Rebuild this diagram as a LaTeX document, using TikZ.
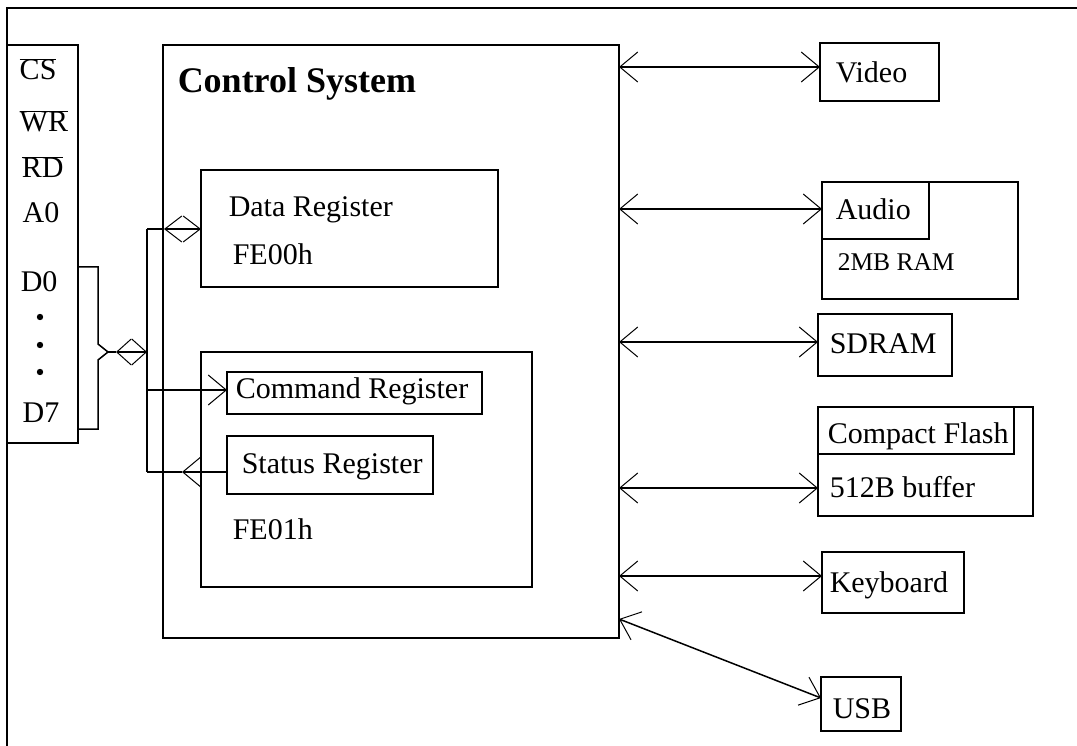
\documentclass[tikz,border=0pt]{standalone}
\usepackage{fontspec}
\setmainfont{Liberation Serif}
\usetikzlibrary{arrows.meta}
\begin{document}
\begin{tikzpicture}[x=1pt,y=-1pt,line width=1.5pt,
  box/.style={draw,anchor=north west,inner sep=0pt,outer sep=0pt},
  lbl/.style={anchor=base west,inner sep=0pt,font=\fontsize{30}{32}\selectfont},
  small/.style={anchor=base west,inner sep=0pt,font=\fontsize{25.5}{27}\selectfont},
  vtip/.tip={Straight Barb[length=18pt,width=30pt,line width=1pt]},
  dtipst/.tip={Straight Barb[length=17pt,width=26pt,line width=1pt]},
  btipst/.tip={Straight Barb[length=14.5pt,width=26pt,line width=1pt]},
  bi/.style={vtip-vtip},
  bid/.style={dtipst-dtipst},
  bib/.style={btipst-btipst},
  uni/.style={-vtip}]
\useasboundingbox (0,0) rectangle (1077,746);
% outer frame (top and left)
\draw (7,746) -- (7,8) -- (1077,8);
% pin box
\node[box,minimum width=71pt,minimum height=398pt] (pins) at (7,45) {};
\node[lbl] (cs) at (19,80) {$\overline{\mbox{CS}}$};
\node[lbl] (wr) at (19,132) {$\overline{\mbox{WR}}$};
\node[lbl] (rd) at (21,178) {$\overline{\mbox{RD}}$};
\node[lbl] (a0) at (22,223) {A0};
\node[lbl] (d0) at (20,292) {D0};
\node[lbl] (d7) at (22,422) {D7};
\fill (40,317) circle (3.2pt) (40,345) circle (3.2pt) (40,372) circle (3.2pt);
% control system
\node[box,minimum width=456pt,minimum height=593pt] (ctrl) at (163,45) {};
\node[anchor=base west,inner sep=0pt,font=\fontsize{36}{38}\selectfont\bfseries] (title) at (177,93) {Control System};
\node[box,minimum width=297pt,minimum height=117pt] (data) at (201,170) {};
\node[lbl] (datat) at (228,217) {Data Register};
\node[lbl] (fe00) at (232,265) {FE00h};
\node[box,minimum width=331pt,minimum height=235pt] (creg) at (201,352) {};
\node[box,minimum width=255pt,minimum height=42pt] (cmd) at (227,372) {};
\node[lbl] (cmdt) at (235,398) {Command Register};
\node[box,minimum width=206pt,minimum height=58pt] (stat) at (227,436) {};
\node[lbl] (statt) at (241,473) {Status Register};
\node[lbl] (fe01) at (232,539) {FE01h};
% peripherals
\node[box,minimum width=119pt,minimum height=58pt] (video) at (820,43) {};
\node[lbl] (videot) at (835,83) {Video};
\node[box,minimum width=196pt,minimum height=117pt] (audio) at (822,182) {};
\node[box,minimum width=107pt,minimum height=57pt] (audioin) at (822,182) {};
\node[lbl] (audiot) at (835,220) {Audio};
\node[small] (ram) at (837,271) {2MB RAM};
\node[box,minimum width=134pt,minimum height=62pt] (sdram) at (818,314) {};
\node[lbl] (sdramt) at (829,353) {SDRAM};
\node[box,minimum width=215pt,minimum height=109pt] (cf) at (818,407) {};
\node[box,minimum width=196pt,minimum height=47pt] (cfin) at (818,407) {};
\node[lbl] (cft) at (827,443) {Compact Flash};
\node[lbl] (buf) at (829,497) {512B buffer};
\node[box,minimum width=142pt,minimum height=61pt] (kbd) at (822,552) {};
\node[lbl] (kbdt) at (829,592) {Keyboard};
\node[box,minimum width=80pt,minimum height=54pt] (usb) at (821,677) {};
\node[lbl] (usbt) at (832,718) {USB};
% y levels
\coordinate (yv) at (0,67);
\coordinate (ya) at (0,209);
\coordinate (ys) at (0,342);
\coordinate (yc) at (0,488);
\coordinate (yk) at (0,576);
\coordinate (yu1) at (0,619);
\coordinate (yu2) at (0,698);
% right connectors
\draw[bi] (ctrl.east |- yv) -- (video.west |- yv);
\draw[bi] (ctrl.east |- ya) -- (audio.west |- ya);
\draw[bi] (ctrl.east |- ys) -- (sdram.west |- ys);
\draw[bi] (ctrl.east |- yc) -- (cf.west |- yc);
\draw[bi] (ctrl.east |- yk) -- (kbd.west |- yk);
\draw[bi] (ctrl.east |- yu1) -- (usb.west |- yu2);
% left bus
\coordinate (btop) at (147,229);
\coordinate (bmid) at (147,352);
\coordinate (bcmd) at (147,390);
\coordinate (bbot) at (147,472);
\coordinate (dtip) at (164,229);
\coordinate (conv) at (108,352);
\coordinate (ctip) at (116,352);
\coordinate (stip) at (182,472);
\draw (btop) -- (bbot);
\draw (btop) -- (dtip);
\draw[bid] (dtip) -- (data.west |- btop);
\draw (pins.east |- 0,267) -- (98,267) -- (98,344) -- (conv) -- (98,360) -- (98,429) -- (pins.east |- 0,429);
\draw (conv) -- (ctip);
\draw[bib] (ctip) -- (bmid);
\draw[uni] (bcmd) -- (cmd.west |- bcmd);
\draw[uni] (stat.west |- bbot) -- (stip);
\draw (stip) -- (bbot);
\end{tikzpicture}
\end{document}
